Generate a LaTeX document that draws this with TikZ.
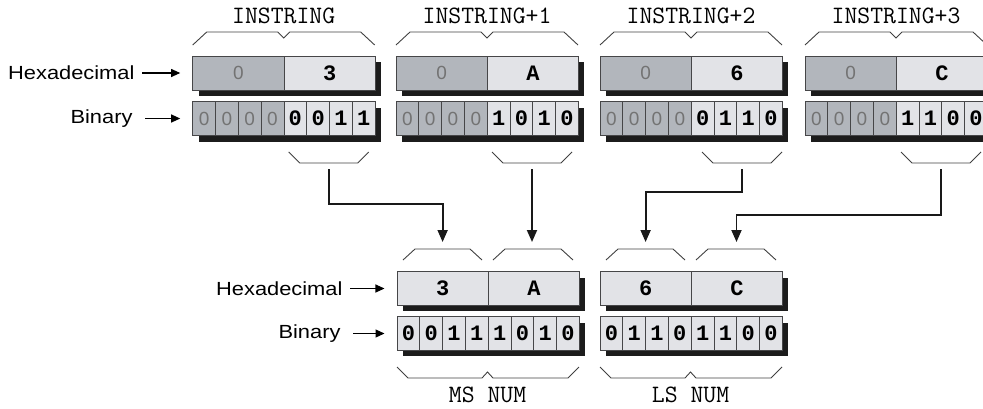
\documentclass[tikz,border=0pt]{standalone}
\usepackage{fontspec}
\setmainfont{Liberation Sans}
\newfontfamily\widesans[FakeStretch=1.15]{Liberation Sans}
\newfontfamily\litmono{Liberation Mono}
\usetikzlibrary{arrows.meta,calc}
\definecolor{cellDark}{RGB}{178,182,188}
\definecolor{cellLite}{RGB}{226,227,231}
\definecolor{cellEdge}{RGB}{70,70,72}
\definecolor{shadow}{RGB}{28,28,28}
\newcommand\dimdigit{\fontsize{19}{20}\selectfont}
\newcommand\litdigit{\litmono\bfseries\fontsize{22}{24}\selectfont}
\newcommand\sidefont{\widesans\fontsize{19}{20}\selectfont}
\newcommand\tagfont{\ttfamily\fontsize{25}{26}\selectfont}
\begin{document}
\begin{tikzpicture}[x=1pt,y=-1pt,
  hexcell/.style={draw=cellEdge,line width=0.8pt,minimum width=91.25pt,minimum height=34pt,inner sep=0pt,outer sep=0pt},
  bitcell/.style={hexcell,minimum width=22.8pt},
  dim/.style={fill=cellDark,text=black!55,font=\dimdigit},
  lit/.style={fill=cellLite,font=\litdigit},
  brace/.style={draw=black!75,line width=0.9pt},
  conn/.style={draw=black!90,line width=1.8pt,-{Triangle[width=10pt,length=12pt]}},
  side/.style={draw,line width=1.1pt,-{Triangle[width=8pt,length=9pt]},shorten <=4pt,shorten >=12.5pt},
  sidelab/.style={anchor=east,font=\sidefont},
  tag/.style={font=\tagfont}]
\useasboundingbox (0,0) rectangle (983,408);
% INSTRING bytes
\foreach \g/\x/\bx/\lab/\hx/\bA/\bB/\bC/\bD in {0/192.7/0/INSTRING/3/0/0/1/1,
    1/396/0/INSTRING+1/A/1/0/1/0, 2/600/6/INSTRING+2/6/0/1/1/0, 3/805/0/INSTRING+3/C/1/1/0/0} {
  \fill[shadow] (\x+6,62) rectangle (\x+188,96);
  \fill[shadow] (\x+6,107.5) rectangle (\x+188,141.5);
  \node[hexcell,dim] (h\g-a) at (\x+45.6,73) {0};
  \node[hexcell,lit] (h\g-b) at (\x+136.9,73) {\hx};
  \foreach \i in {0,...,3}
    \node[bitcell,dim] (b\g-\i) at (\x+11.4+22.8*\i,118.5) {0};
  \foreach \i/\v in {4/\bA,5/\bB,6/\bC,7/\bD}
    \node[bitcell,lit] (b\g-\i) at (\x+11.4+22.8*\i,118.5) {\v};
  \draw[brace] (\x,45) -- (\x+14,32) -- (\x+85,32) -- (\x+91,38) -- (\x+97,32) -- (\x+168,32) -- (\x+182,45);
  \node[tag] (t\g) at (\x+91,16) {\lab};
  % low nibble
  \draw[brace] (\x+\bx+96,152) -- (\x+\bx+107,163) -- (\x+\bx+165,163) -- (\x+\bx+176,152);
  \coordinate (lo\g) at (\x+\bx+136,169);
}
% MS NUM and LS NUM
\foreach \n/\x/\lab/\hA/\hB/\bits in {ms/397/MS NUM/3/A/{0,0,1,1,1,0,1,0}, ls/600/LS NUM/6/C/{0,1,1,0,1,1,0,0}} {
  \fill[shadow] (\x+6,278) rectangle (\x+188,311);
  \fill[shadow] (\x+6,323) rectangle (\x+188,356);
  \node[hexcell,lit] (\n-a) at (\x+45.6,288.5) {\hA};
  \node[hexcell,lit] (\n-b) at (\x+136.9,288.5) {\hB};
  \foreach \v [count=\i from 0] in \bits
    \node[bitcell,lit] (\n-\i) at (\x+11.4+22.8*\i,333.5) {\v};
  \draw[brace] (\x+6,260) -- (\x+18,249) -- (\x+73,249) -- (\x+85,260);
  \draw[brace] (\x+96,260) -- (\x+108,249) -- (\x+164,249) -- (\x+176,260);
  \draw[brace] (\x,367) -- (\x+11,378) -- (\x+85,378) -- (\x+90.5,372) -- (\x+96,378) -- (\x+171,378) -- (\x+182,367);
  \node[tag] (\n-tag) at (\x+90.5,395) {\lab};
  \coordinate (\n-in-a) at (\x+45.6,242);
  \coordinate (\n-in-b) at (\x+136.5,242);
}
% side labels
\node[sidelab] (hexT) at (138,73) {Hexadecimal};
\node[sidelab] (binT) at (136,118.5) {Binary};
\node[sidelab] (hexB) at (346,288.5) {Hexadecimal};
\node[sidelab] (binB) at (344,333.5) {Binary};
\draw[side] (hexT.east) -- (h0-a.west);
\draw[side,shorten <=9pt] (binT.east) -- (b0-0.west);
\draw[side] (hexB.east) -- (ms-a.west);
\draw[side,shorten <=9pt] (binB.east) -- (ms-0.west);
% moves
\draw[conn] (lo0) -- ++(0,35) -| (ms-in-a);
\draw[conn] (lo1) -- (lo1 |- ms-in-b);
\draw[conn] (lo2) -- ++(0,23) -| (ls-in-a);
\draw[conn] (lo3) -- ++(0,46) -| (ls-in-b);
\end{tikzpicture}
\end{document}
